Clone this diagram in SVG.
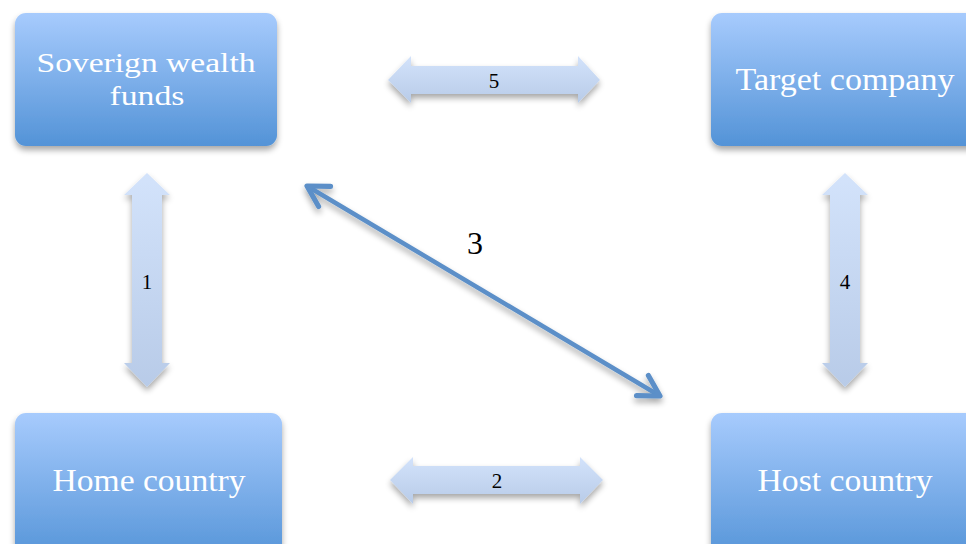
<svg xmlns="http://www.w3.org/2000/svg" width="966" height="544" viewBox="0 0 966 544">
<defs>
<linearGradient id="ng" x1="0" y1="0" x2="0" y2="1">
<stop offset="0" stop-color="#a7cbfd"/>
<stop offset="1" stop-color="#5393d7"/>
</linearGradient>
<linearGradient id="ag" x1="0" y1="0" x2="0" y2="1">
<stop offset="0" stop-color="#d3e3fb"/>
<stop offset="1" stop-color="#b8cbe8"/>
</linearGradient>
<filter id="sh" x="-20%" y="-20%" width="140%" height="150%">
<feGaussianBlur in="SourceAlpha" stdDeviation="3"/>
<feOffset dx="0" dy="4"/>
<feComponentTransfer><feFuncA type="linear" slope="0.35"/></feComponentTransfer>
<feMerge><feMergeNode/><feMergeNode in="SourceGraphic"/></feMerge>
</filter>
<marker id="chev" viewBox="0 0 20 20" refX="17" refY="10" markerWidth="6.5" markerHeight="6.5" markerUnits="strokeWidth" orient="auto-start-reverse">
<path d="M3,2 L17,10 L3,18" fill="none" stroke="#5b8fc8" stroke-width="3.5" stroke-linecap="round" stroke-linejoin="round"/>
</marker>
</defs>
<style>
.node{fill:url(#ng);filter:url(#sh)}
.nt{font-family:"Liberation Serif","DejaVu Serif",serif;font-size:31px;fill:#ffffff;text-anchor:middle}
.nt2{font-family:"Liberation Serif","DejaVu Serif",serif;font-size:28px;fill:#ffffff;text-anchor:middle}
.blk{fill:url(#ag);filter:url(#sh)}
.lb{font-family:"Liberation Serif","DejaVu Serif",serif;font-size:21px;fill:#000;text-anchor:middle}
</style>
<rect width="966" height="544" fill="#ffffff"/>
<g id="swf">
<rect class="node" x="15" y="13" width="262" height="133" rx="11"/>
<text class="nt2" x="146" y="72" textLength="219" lengthAdjust="spacingAndGlyphs">Soverign wealth</text>
<text class="nt2" x="147" y="105" textLength="75" lengthAdjust="spacingAndGlyphs">funds</text>
</g>
<g id="target">
<rect class="node" x="711" y="13" width="275" height="133" rx="11"/>
<text class="nt" x="845" y="90" textLength="219" lengthAdjust="spacingAndGlyphs">Target company</text>
</g>
<g id="home">
<rect class="node" x="15" y="413" width="267" height="150" rx="11"/>
<text class="nt" x="149" y="491" textLength="193" lengthAdjust="spacingAndGlyphs">Home country</text>
</g>
<g id="host">
<rect class="node" x="711" y="413" width="275" height="150" rx="11"/>
<text class="nt" x="845" y="491" textLength="175" lengthAdjust="spacingAndGlyphs">Host country</text>
</g>
<g id="connectors">
<g id="c5">
<path class="blk" d="M388,80 L411,56 L411,66 L578,66 L578,56 L600,80 L578,103 L578,94 L411,94 L411,103 Z"/>
<text class="lb" x="494" y="88">5</text>
</g>
<g id="c2">
<path class="blk" d="M390,480 L413,457 L413,466 L580,466 L580,457 L603,480 L580,504 L580,494 L413,494 L413,504 Z"/>
<text class="lb" x="497" y="488">2</text>
</g>
<g id="c1">
<path class="blk" d="M147,173 L170,195 L162,195 L162,363 L170,363 L147,387 L124,363 L132,363 L132,195 L124,195 Z"/>
<text class="lb" x="147" y="289">1</text>
</g>
<g id="c4">
<path class="blk" d="M845,173 L868,195 L860,195 L860,363 L868,363 L845,387 L822,363 L830,363 L830,195 L822,195 Z"/>
<text class="lb" x="845" y="289">4</text>
</g>
<g id="c3">
<line x1="307" y1="186" x2="660" y2="396" stroke="#5b8fc8" stroke-width="4.5" marker-start="url(#chev)" marker-end="url(#chev)" filter="url(#sh)"/>
<text x="475" y="254" font-family="'Liberation Serif','DejaVu Serif',serif" font-size="32" fill="#000" text-anchor="middle">3</text>
</g>
</g>
</svg>
